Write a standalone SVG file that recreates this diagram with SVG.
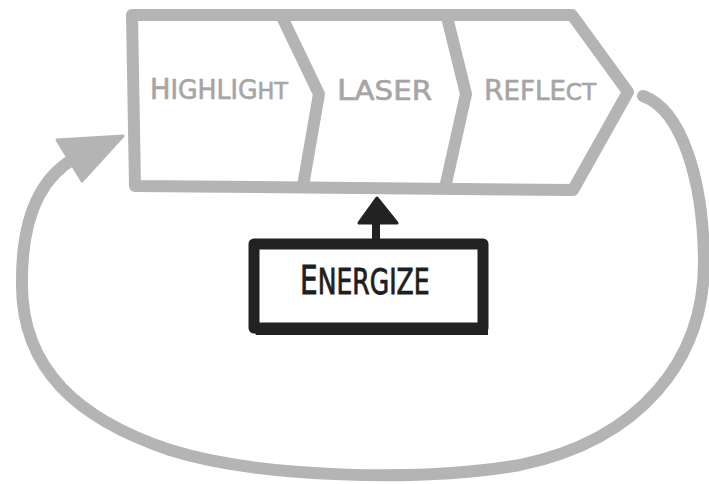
<svg xmlns="http://www.w3.org/2000/svg" width="709" height="484" viewBox="0 0 709 484">
  <style>
    .gray { fill: none; stroke: #b4b4b4; stroke-width: 12; stroke-linejoin: round; stroke-linecap: round; }
    .glabel { font-family: "DejaVu Sans Condensed", "Liberation Sans", sans-serif; fill: #a6a6a6; stroke: #a6a6a6; stroke-width: 0.6; font-size: 26px; }
    .blabel { font-family: "DejaVu Sans Condensed", "Liberation Sans", sans-serif; fill: #1e1e1e; stroke: #1e1e1e; stroke-width: 0.8; font-size: 35px; }
    .black { fill: none; stroke: #222; stroke-width: 11; stroke-linejoin: round; }
  </style>
  <rect width="709" height="484" fill="#ffffff"/>
  <g id="chevron-band">
    <path class="gray" d="M132,15 L572,15 L628,92 L573,190 L135,186 Z"/>
  </g>
  <g id="node-highlight">
    <text class="glabel" x="150" y="99" textLength="138" lengthAdjust="spacingAndGlyphs"><tspan font-size="28">H</tspan>IGHLIG<tspan font-size="23">HT</tspan></text>
  </g>
  <g id="node-laser">
    <path class="gray" d="M282,17 L319,94 L303,186"/>
    <text class="glabel" x="337" y="100" textLength="95" lengthAdjust="spacingAndGlyphs"><tspan font-size="28">L</tspan>ASER</text>
  </g>
  <g id="node-reflect">
    <path class="gray" d="M447,17 L466,94 L445,188"/>
    <text class="glabel" x="484" y="100" textLength="112" lengthAdjust="spacingAndGlyphs"><tspan font-size="28">R</tspan>EFLE<tspan font-size="23">CT</tspan></text>
  </g>
  <g id="node-energize">
    <rect class="black" x="254" y="244" width="229" height="84"/>
    <path d="M252,326 L488,326 L488,335 L256,335 Z" fill="#222"/>
    <text class="blabel" transform="translate(300,294) scale(0.8,1)" x="0" y="0" textLength="162" lengthAdjust="spacingAndGlyphs"><tspan font-size="39">E</tspan>NERGIZE</text>
  </g>
  <g id="connectors">
    <path class="gray" stroke-width="11" d="M643,96 C682,110 703,180 704,260 C705,360 640,440 520,465 C420,482 260,478 170,450 C80,420 20,370 22,280 C22,210 45,175 75,158"/>
    <polygon points="57,140 123,136 82,181" fill="#b4b4b4" stroke="#b4b4b4" stroke-width="3" stroke-linejoin="round"/>
    <rect x="372" y="218" width="8" height="24" fill="#222"/>
    <polygon points="377,198 359,223 397,223" fill="#222" stroke="#222" stroke-width="3" stroke-linejoin="round"/>
  </g>
</svg>
